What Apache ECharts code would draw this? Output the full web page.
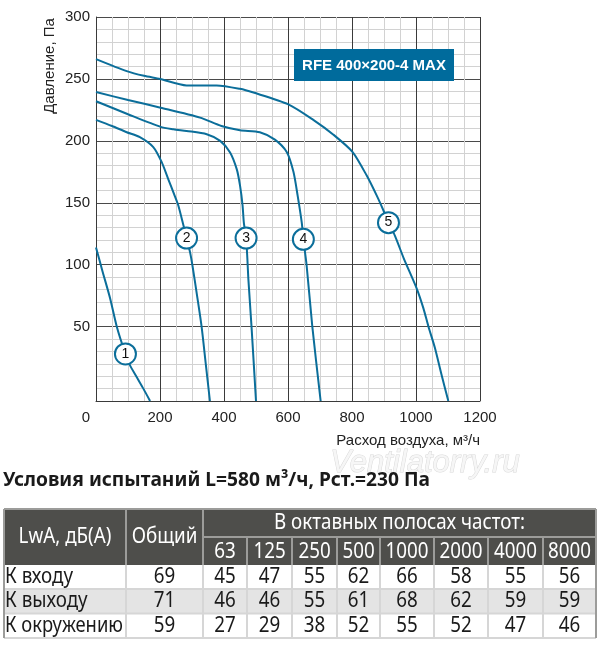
<!DOCTYPE html>
<html>
<head>
<meta charset="utf-8">
<title>RFE 400x200-4 MAX</title>
<script src="https://cdn.jsdelivr.net/npm/echarts@6/dist/echarts.min.js"></script>
<style>
html, body { margin: 0; padding: 0; background: #fff; }
#main { width: 600px; height: 646px; }
</style>
</head>
<body>
<div id="main"></div>
<script>
// кривые: [расход м3/ч, давление Па]
var curve1 = [[0,114],[20,95],[44,73],[65,50],[92,28],[106,19],[128,9],[148,0],[169,-10]];
var curve2 = [[0,217],[50,212],[96,207],[137,203],[179,195],[205,183],[226,169],[244,157],[257,148],[273,132],[283,121.5],[294,110],[301,100],[317,73],[330,50],[343,20],[356,-10]];
var curve3 = [[0,232],[100,221.5],[202,211.3],[242,209.4],[283,208],[346,205.4],[388,200],[419,190.7],[440,177],[450,164],[458,148],[462,134],[469,121.5],[473,105],[476,89],[486,50],[500,-10]];
var curve4 = [[0,239.4],[100,233],[202,226.8],[325,218.8],[392,212],[450,208.6],[512,207],[559,201],[596,191],[617,175],[630,156],[643,134],[648,120.5],[658,100],[676,50],[702,-10]];
var curve5 = [[0,266],[96,256.3],[150,252.5],[200,250],[283,244.8],[377,244.8],[450,242],[492,239],[601,229.5],[679,217],[742,205],[802,191],[846,172],[877,156],[898,144],[914,134],[934,123.5],[962,105],[1002,81],[1023,65],[1039,50],[1059,33],[1080,11],[1101,-10]];
// номера кривых
var markers = [[92,28,'1'],[283,121.5,'2'],[469,121.5,'3'],[648,120.5,'4'],[914,134,'5']];

var modelName = 'RFE 400×200-4 MAX';
var testTitle = 'Условия испытаний L=580 м³/ч, Рст.=230 Па';

// таблица шума
var freqs = ['63','125','250','500','1000','2000','4000','8000'];
var rowNames = ['К входу','К выходу','К окружению'];
var totals = [69, 71, 59];
var inlet = [45, 47, 55, 62, 66, 58, 55, 56];
var outlet = [46, 46, 55, 61, 68, 62, 59, 59];
var ambient = [27, 29, 38, 52, 55, 52, 47, 46];

var blue = '#0b6e9a';
var axisFont = '"Liberation Sans", Arial, sans-serif';
var tblFont = '21px "Noto Sans", sans-serif';
var ttlFont = 'bold 20px "Noto Sans", sans-serif';

// узкий шрифт имитируем сжатием по горизонтали
var mctx = document.createElement('canvas').getContext('2d');
function measure(s, font) { mctx.font = font; return mctx.measureText(s).width; }
var tblScale = 43 / measure('1000', tblFont);
var ttlScale = 427 / measure(testTitle, ttlFont);

// цвета сетки: каждая 50-я (Па) / 200-я (м3/ч) линия тёмная
var yColors = [], xColors = [];
for (var v = -10; v <= 300; v += 10) yColors.push(v > 0 && v % 50 === 0 ? '#4a4a4a' : '#d2d2d2');
for (var u = 0; u <= 1200; u += 50) xColors.push(u % 200 === 0 ? '#3a3a3a' : '#d2d2d2');

function txt(x, y, s, font, fill, align, extra) {
    var el = {
        type: 'text', z: 20, x: x, y: y,
        style: { text: s, x: 0, y: 0, font: font, fill: fill || '#222',
                 align: align || 'left', textAlign: align || 'left',
                 verticalAlign: 'middle', textVerticalAlign: 'middle' }
    };
    if (extra) for (var k in extra) el[k] = extra[k];
    return el;
}
function rect(x, y, w, h, fill, z) {
    return { type: 'rect', z: z || 10, shape: { x: x, y: y, width: w, height: h }, style: { fill: fill } };
}
function line(x1, y1, x2, y2, color, w) {
    return { type: 'line', z: 12, shape: { x1: x1, y1: y1, x2: x2, y2: y2 }, style: { stroke: color, lineWidth: w || 2 } };
}

// --- таблица ---
var colX = [4, 126, 203, 247, 292, 337, 380, 434, 488, 543, 596];
var rowY = [509, 537, 565, 589, 613.5, 638];
var tableEls = [];
var hdrLine = '#9c9c9a', cellLine = '#d6d6d6';
tableEls.push(rect(colX[0], rowY[0], colX[10] - colX[0], rowY[2] - rowY[0], '#4e4e4b'));
tableEls.push(rect(colX[0], rowY[3], colX[10] - colX[0], rowY[4] - rowY[3], '#e4e4e4'));
// линии шапки
tableEls.push(line(colX[1], rowY[0], colX[1], rowY[2], hdrLine));
tableEls.push(line(colX[2], rowY[0], colX[2], rowY[2], hdrLine));
tableEls.push(line(colX[2], rowY[1], colX[10], rowY[1], hdrLine));
for (var c = 3; c < 10; c++) tableEls.push(line(colX[c], rowY[1], colX[c], rowY[2], hdrLine));
tableEls.push(line(colX[0], rowY[0], colX[10], rowY[0], hdrLine));
// линии данных
for (var r = 3; r < 6; r++) tableEls.push(line(colX[0], rowY[r], colX[10], rowY[r], cellLine));
for (var c2 = 0; c2 < 11; c2++) {
    var edge = (c2 === 0 || c2 === 10);
    tableEls.push(line(colX[c2], edge ? rowY[0] : rowY[2], colX[c2], rowY[5], edge ? hdrLine : cellLine));
}
tableEls.push(txt((colX[0] + colX[1]) / 2, (rowY[0] + rowY[2]) / 2, 'LwA, дБ(А)', tblFont, '#fff', 'center', { scaleX: tblScale }));
tableEls.push(txt((colX[1] + colX[2]) / 2, (rowY[0] + rowY[2]) / 2, 'Общий', tblFont, '#fff', 'center', { scaleX: tblScale }));
tableEls.push(txt((colX[2] + colX[10]) / 2, (rowY[0] + rowY[1]) / 2, 'В октавных полосах частот:', tblFont, '#fff', 'center', { scaleX: tblScale }));
freqs.forEach(function (f, i) {
    tableEls.push(txt((colX[i + 2] + colX[i + 3]) / 2, (rowY[1] + rowY[2]) / 2 + 1, f, tblFont, '#fff', 'center', { scaleX: tblScale }));
});
var rows = [inlet, outlet, ambient];
rows.forEach(function (vals, r) {
    var cy = (rowY[r + 2] + rowY[r + 3]) / 2;
    // первая колонка узкая: подгоняем под ширину ячейки
    var nameScale = Math.min(tblScale, (colX[1] - colX[0] - 4) / measure(rowNames[r], tblFont));
    tableEls.push(txt(colX[0] + 1, cy, rowNames[r], tblFont, '#1a1a1a', 'left', { scaleX: nameScale }));
    tableEls.push(txt((colX[1] + colX[2]) / 2, cy, String(totals[r]), tblFont, '#1a1a1a', 'center', { scaleX: tblScale }));
    vals.forEach(function (val, i) {
        tableEls.push(txt((colX[i + 2] + colX[i + 3]) / 2, cy, String(val), tblFont, '#1a1a1a', 'center', { scaleX: tblScale }));
    });
});

var chart = echarts.init(document.getElementById('main'), null, { renderer: 'canvas' });

var curves = [curve1, curve2, curve3, curve4, curve5];
var series = curves.map(function (d, i) {
    return {
        name: 'c' + (i + 1), type: 'line', data: d, smooth: 0.25,
        showSymbol: false, silent: true,
        lineStyle: { color: blue, width: 2 }, z: 3
    };
});
series.push({
    type: 'scatter', data: markers, symbol: 'circle', symbolSize: 21, z: 5,
    itemStyle: { color: '#fff', borderColor: blue, borderWidth: 2, opacity: 1 },
    label: { show: true, position: 'inside', formatter: function (p) { return p.value[2]; },
             color: '#111', fontSize: 14, fontFamily: axisFont }
});

chart.setOption({
    animation: false,
    backgroundColor: '#fff',
    grid: { left: 96, right: 120, top: 17, bottom: 245, containLabel: false },
    xAxis: {
        type: 'value', min: 0, max: 1200, interval: 50,
        axisLine: { show: true, onZero: false, lineStyle: { color: '#3a3a3a', width: 1 } },
        axisTick: { show: false },
        axisLabel: {
            interval: 0, margin: 9, color: '#222', fontSize: 15, fontFamily: axisFont,
            formatter: function (v) { if (v === 0) return '{o|0}'; return v % 200 === 0 ? String(v) : ''; },
            rich: { o: { padding: [0, 20, 0, 0], color: '#222', fontSize: 15, fontFamily: axisFont } }
        },
        splitLine: { show: true, lineStyle: { color: xColors, width: 1 } }
    },
    yAxis: {
        type: 'value', min: -10, max: 300, interval: 10,
        axisLine: { show: true, lineStyle: { color: '#3a3a3a', width: 1 } },
        axisTick: { show: false },
        axisLabel: {
            margin: 6, color: '#222', fontSize: 15, fontFamily: axisFont,
            formatter: function (v) { return (v > 0 && v % 50 === 0) ? String(v) : ''; }
        },
        splitLine: { show: true, lineStyle: { color: yColors, width: 1 } }
    },
    series: series,
    graphic: [
        // подписи осей
        txt(50, 66, 'Давление, Па', '15px ' + axisFont, '#222', 'center', { rotation: Math.PI / 2 }),
        txt(480, 441, 'Расход воздуха, м³/ч', '15px ' + axisFont, '#222', 'right'),
        // модель
        rect(294, 49, 160, 32, '#006b9c', 15),
        txt(374, 65.5, modelName, 'bold 15px ' + axisFont, '#fff', 'center'),
        // условия испытаний
        txt(3, 480, testTitle, ttlFont, '#1a1a1a', 'left', { scaleX: ttlScale }),
        // водяной знак
        { type: 'text', z: 1, x: 425, y: 463, style: { text: 'Ventilatorry.ru', x: 0, y: 0, font: 'italic 31px ' + axisFont,
          fill: '#f6f6f6', stroke: '#d9d9d9', lineWidth: 1, align: 'center', textAlign: 'center',
          verticalAlign: 'middle', textVerticalAlign: 'middle' } }
    ].concat(tableEls)
});
</script>
</body>
</html>
